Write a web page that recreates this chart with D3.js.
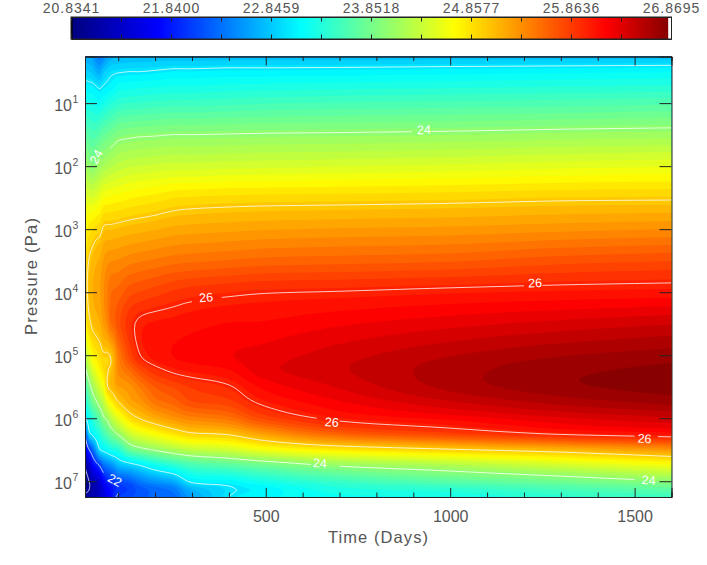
<!DOCTYPE html>
<html><head><meta charset="utf-8">
<style>html,body{margin:0;padding:0;background:#fff}svg{display:block}text{font-family:"Liberation Sans",sans-serif}</style>
<script src="https://cdn.jsdelivr.net/npm/d3@7"></script></head><body>
<script>
const times=[10,20,30,40,50,60,70,80,90,100,130,160,200,250,300,400,500,700,1000,1300,1600];
const logPressures=[0.26,0.5,0.75,1,1.5,2,2.5,3,3.5,4,4.5,5,5.25,5.5,5.75,6,6.25,6.5,6.75,7,7.12,7.25];
const colT10=[22.66,22.88,23.1,23.28,23.72,24.12,24.45,24.7,24.85,24.9,24.72,24.2,23.9,23.55,23.25,22.93,22.03,21.5,21.03,20.85,20.93,21.05];
const colT20=[22.64,22.85,23.08,23.26,23.65,24.03,24.48,24.8,25.0,25.05,24.92,24.5,24.18,23.85,23.55,23.18,22.85,21.95,21.3,20.98,20.98,21.1];
const colT30=[22.6,22.82,23.07,23.25,23.6,23.97,24.45,24.85,25.08,25.15,25.05,24.7,24.42,24.1,23.8,23.38,23.05,22.25,21.65,21.2,21.12,21.2];
const colT40=[22.45,22.72,23.02,23.2,23.62,24.03,24.5,24.9,25.14,25.2,25.1,24.8,24.58,24.28,23.95,23.55,23.2,22.62,21.85,21.3,21.2,21.22];
const colT50=[22.37,22.68,22.98,23.2,23.68,24.1,24.55,24.93,25.18,25.25,25.15,24.88,24.72,24.45,24.12,23.72,23.35,22.98,22.03,21.42,21.3,21.3];
const colT60=[22.45,22.82,23.03,23.25,23.75,24.16,24.65,25.03,25.27,25.35,25.27,24.97,24.85,24.62,24.27,23.95,23.52,23.07,22.3,21.68,21.52,21.45];
const colT70=[22.6,22.9,23.06,23.3,23.78,24.2,24.66,25.05,25.33,25.45,25.38,24.97,24.98,24.97,24.55,24.06,23.65,23.15,22.4,21.85,21.68,21.6];
const colT80=[22.68,22.95,23.1,23.35,23.83,24.24,24.68,25.05,25.35,25.55,25.55,25.03,25.05,25.08,24.7,24.25,23.8,23.25,22.5,21.95,21.78,21.75];
const colT90=[22.72,22.97,23.14,23.38,23.87,24.27,24.69,25.06,25.36,25.58,25.62,25.2,25.2,25.15,24.85,24.4,23.92,23.3,22.6,22.0,21.88,21.95];
const colT100=[22.72,22.98,23.2,23.42,23.92,24.3,24.7,25.07,25.37,25.6,25.72,25.45,25.38,25.25,24.98,24.52,24.03,23.35,22.75,22.12,21.98,22.03];
const colT130=[22.74,23.0,23.22,23.45,23.95,24.34,24.74,25.1,25.42,25.72,25.93,25.78,25.55,25.32,25.2,24.85,24.35,23.75,22.87,22.22,22.06,22.12];
const colT160=[22.75,23.0,23.24,23.46,23.97,24.36,24.77,25.12,25.45,25.77,26.04,26.0,25.75,25.48,25.3,25.02,24.52,23.9,23.0,22.4,22.2,22.2];
const colT200=[22.76,23.02,23.25,23.48,23.98,24.38,24.8,25.15,25.48,25.82,26.08,26.1,25.92,25.67,25.5,25.17,24.66,24.03,23.2,22.55,22.3,22.27];
const colT250=[22.76,23.05,23.27,23.5,24,24.4,24.85,25.19,25.52,25.88,26.1,26.17,26.03,25.78,25.6,25.32,24.82,24.18,23.38,22.68,22.4,22.3];
const colT300=[22.76,23.05,23.27,23.5,24,24.4,24.87,25.21,25.54,25.92,26.13,26.2,26.08,25.88,25.75,25.42,24.96,24.3,23.55,23.05,22.75,22.6];
const colT400=[22.77,23.07,23.29,23.52,24.01,24.42,24.89,25.23,25.57,25.96,26.17,26.26,26.15,25.98,25.82,25.52,25.03,24.4,23.67,23.12,22.97,23.0];
const colT500=[22.77,23.07,23.3,23.54,24.02,24.43,24.9,25.25,25.6,25.99,26.18,26.31,26.33,26.2,26.05,25.8,25.27,24.6,23.8,23.28,23.1,23.12];
const colT700=[22.77,23.08,23.32,23.56,24.03,24.45,24.91,25.27,25.62,26.01,26.25,26.42,26.45,26.38,26.25,26.06,25.62,24.8,24.03,23.5,23.32,23.22];
const colT1000=[22.78,23.1,23.34,23.58,24.05,24.48,24.93,25.29,25.65,26.05,26.33,26.56,26.62,26.6,26.45,26.2,25.82,24.97,24.2,23.68,23.42,23.25];
const colT1300=[22.78,23.12,23.36,23.6,24.08,24.52,24.96,25.33,25.72,26.08,26.4,26.66,26.74,26.74,26.6,26.35,26.02,25.12,24.4,23.82,23.58,23.4];
const colT1600=[22.78,23.14,23.38,23.63,24.1,24.55,24.97,25.36,25.76,26.1,26.46,26.72,26.8,26.82,26.7,26.45,26.12,25.32,24.6,24.0,23.72,23.5];
const columns=[colT10,colT20,colT30,colT40,colT50,colT60,colT70,colT80,colT90,colT100,colT130,colT160,colT200,colT250,colT300,colT400,colT500,colT700,colT1000,colT1300,colT1600];
const barTickLabels=["20.8341","21.8400","22.8459","23.8518","24.8577","25.8636","26.8695"];
const barMin=20.8341,barMax=26.8695;
const isoLevels=[21,22,23,24,25,26];
const labelLevels=[26,26,26,26,24,24,24,24,22];
const labelTimes=[338,1230,679,1527,929,647,1538,40,91];
const labelLogP=[4.08,3.85,6.06,6.32,1.42,6.71,6.98,1.85,6.98];
const labelAngles=[-5,-2,4,3,-1,3,3,-62,28];
const stopPos=[0,.143,.382,.637,.89,1];
const stopCol=["#00007f","#0000ff","#00ffff","#ffff00","#ff0000","#7f0000"];
const bandCount=60;

const W=707,H=565;
const svg=d3.select("body").append("svg").attr("width",W).attr("height",H);
const L=85,R=671.5,T=56.5,B=497;
const x=d3.scaleLinear().domain([10,1600]).range([L,R]);
const y=d3.scaleLog().domain([Math.pow(10,.26),Math.pow(10,7.25)]).range([T,B]);
const color=d3.scaleLinear().domain(stopPos.map(p=>barMin+p*(barMax-barMin))).range(stopCol).clamp(true);

// the surface is drawn smoothly between the read values (Catmull-Rom, like an image resize)
const F=6;
function refine(a){
  const o=[],n=a.length;
  for(let i=0;i<n-1;i++){
    const p1=a[i],p2=a[i+1],p0=i>0?a[i-1]:2*p1-p2,p3=i<n-2?a[i+2]:2*p2-p1;
    for(let s=0;s<F;s++){
      const t=s/F;
      o.push(.5*(2*p1+(p2-p0)*t+(2*p0-5*p1+4*p2-p3)*t*t+(3*p1-p0-3*p2+p3)*t*t*t));
    }
  }
  o.push(a[n-1]);
  return o;
}
const fineTimes=refine(times),fineLog=refine(logPressures);
const nx=fineTimes.length,ny=fineLog.length;
const colsAcrossRows=columns.map(refine);
const grid=new Array(nx*ny);
for(let j=0;j<ny;j++){
  const row=refine(colsAcrossRows.map(c=>c[j]));
  for(let i=0;i<nx;i++)grid[j*nx+i]=row[i];
}
const ti=d3.scaleLinear().domain(d3.range(nx)).range(fineTimes).clamp(true);
const pi=d3.scaleLinear().domain(d3.range(ny)).range(fineLog).clamp(true);
const X=c=>x(ti(c-.5)),Y=c=>y(Math.pow(10,pi(c-.5)));
const path=d3.geoPath(d3.geoTransform({point(a,b){this.stream.point(X(a),Y(b));}}));

svg.append("clipPath").attr("id","pc").append("rect").attr("x",L).attr("y",T).attr("width",R-L).attr("height",B-T);
const plot=svg.append("g").attr("clip-path","url(#pc)");
plot.append("rect").attr("x",L).attr("y",T).attr("width",R-L).attr("height",B-T).attr("fill",color(barMin));
const step=(barMax-barMin)/bandCount;
const ths=d3.range(bandCount).map(k=>barMin+k*step);
const contours=d3.contours().size([nx,ny]);
ths.forEach(t=>{
  const c=contours.contour(grid,t);
  plot.append("path").attr("d",path(c)).attr("fill",color(t+step/2));
});

const labels=labelLevels.map((lv,i)=>({lv,px:x(labelTimes[i]),py:y(Math.pow(10,labelLogP[i])),a:labelAngles[i]}));
function hidden(lv,mx,my){
  return labels.some(l=>{
    if(l.lv!==lv)return false;
    const r=-l.a*Math.PI/180,dx=mx-l.px,dy=my-l.py;
    const u=dx*Math.cos(r)-dy*Math.sin(r),v=dx*Math.sin(r)+dy*Math.cos(r);
    return Math.abs(u)<14&&Math.abs(v)<9;
  });
}
isoLevels.forEach(lv=>{
  const c=contours.contour(grid,lv);
  let d="";
  c.coordinates.forEach(poly=>poly.forEach(ring=>{
    for(let k=1;k<ring.length;k++){
      const [a0,b0]=ring[k-1],[a1,b1]=ring[k];
      if((a0<=.5&&a1<=.5)||(a0>=nx-.5&&a1>=nx-.5)||(b0<=.5&&b1<=.5)||(b0>=ny-.5&&b1>=ny-.5))continue;
      const x0=X(a0),y0=Y(b0),x1=X(a1),y1=Y(b1);
      if(hidden(lv,(x0+x1)/2,(y0+y1)/2))continue;
      d+=`M${x0.toFixed(2)},${y0.toFixed(2)}L${x1.toFixed(2)},${y1.toFixed(2)}`;
    }
  }));
  plot.append("path").attr("d",d).attr("fill","none").attr("stroke","#fff").attr("stroke-width",.9).attr("stroke-opacity",.85);
});
svg.append("g").selectAll("text").data(labels).join("text")
  .attr("transform",d=>`translate(${d.px},${d.py}) rotate(${d.a})`)
  .attr("text-anchor","middle").attr("dy","0.36em").attr("fill","#fff").attr("font-size",12.5)
  .text(d=>d.lv);

const ink="#222",txt="#555";
function style(g){g.select(".domain").attr("stroke",ink).attr("stroke-width",1);g.selectAll(".tick line").attr("stroke",ink);g.selectAll("text").attr("fill",txt).attr("font-size",16).attr("font-family",'"Liberation Sans",sans-serif');}
const majors=[500,1000,1500],minors=d3.range(100,1601,100).filter(v=>!majors.includes(v));
const exps=[1,2,3,4,5,6,7],decades=exps.map(e=>Math.pow(10,e));
svg.append("g").attr("transform",`translate(0,${B})`).call(d3.axisBottom(x).tickValues(minors).tickSize(-4.5).tickFormat("")).call(style);
svg.append("g").attr("transform",`translate(0,${T})`).call(d3.axisTop(x).tickValues(minors).tickSize(-4.5).tickFormat("")).call(style);
svg.append("g").attr("transform",`translate(0,${T})`).call(d3.axisTop(x).tickValues(majors).tickSize(-9).tickFormat("")).call(style);
const xMaj=svg.append("g").attr("transform",`translate(0,${B})`).call(d3.axisBottom(x).tickValues(majors).tickSize(-9).tickPadding(0).tickFormat(d3.format("d"))).call(style);
xMaj.selectAll("text").attr("y",25).attr("dy",0);
svg.append("g").attr("transform",`translate(${R},0)`).call(d3.axisRight(y).tickValues(decades).tickSize(-12).tickFormat("")).call(style);
const yAx=svg.append("g").attr("transform",`translate(${L},0)`).call(d3.axisLeft(y).tickValues(decades).tickSize(-12).tickFormat("")).call(style);
yAx.selectAll(".tick text").remove();
yAx.selectAll(".tick").append("text").attr("x",-13).attr("y",7).attr("text-anchor","end").attr("fill",txt).attr("font-size",16).text("10");
yAx.selectAll(".tick").append("text").attr("x",-12.5).attr("y",-1).attr("text-anchor","start").attr("fill",txt).attr("font-size",10.5).text(d=>Math.round(Math.log10(d)));

svg.append("text").attr("x",378).attr("y",543).attr("text-anchor","middle").attr("fill",txt).attr("font-size",16.5).attr("textLength",100).attr("lengthAdjust","spacing").text("Time (Days)");
svg.append("text").attr("transform","translate(37,276.5) rotate(-90)").attr("text-anchor","middle").attr("fill",txt).attr("font-size",16.5).attr("textLength",117).attr("lengthAdjust","spacing").text("Pressure (Pa)");

const bx=d3.scaleLinear().domain([barMin,barMax]).range([71,671]);
const bins=d3.range(300).map(i=>barMin+i*(barMax-barMin)/300);
const barT=17,barB=39;
svg.append("g").selectAll("rect").data(bins).join("rect")
  .attr("x",d=>bx(d)).attr("y",barT).attr("width",(671-71)/300+.4).attr("height",barB-barT).attr("fill",d=>color(d));
svg.append("rect").attr("x",668.2).attr("y",barT).attr("width",3.4).attr("height",barB-barT).attr("fill","#fff");
svg.append("rect").attr("x",71).attr("y",barT).attr("width",1.6).attr("height",barB-barT).attr("fill","#000");
const barTickVals=barTickLabels.map(Number);
const barMinor=d3.range(0,13).map(k=>barMin+k*(barMax-barMin)/12);
const bt=svg.append("g").attr("transform",`translate(0,${barT})`).call(d3.axisTop(bx).tickValues(barTickVals).tickSize(0).tickPadding(4.3).tickFormat((d,i)=>barTickLabels[i])).call(style);
bt.selectAll("text").attr("font-size",14).attr("letter-spacing",1).attr("dy",0);
svg.append("g").attr("transform",`translate(0,${barT})`).call(d3.axisTop(bx).tickValues(barMinor).tickSize(-4.5).tickFormat("")).call(style);
svg.append("g").attr("transform",`translate(0,${barB})`).call(d3.axisBottom(bx).tickValues(barMinor).tickSize(-4.5).tickFormat("")).call(style);
svg.append("rect").attr("x",71).attr("y",barT).attr("width",600.5).attr("height",barB-barT).attr("fill","none").attr("stroke",ink).attr("stroke-width",1);
</script></body></html>
